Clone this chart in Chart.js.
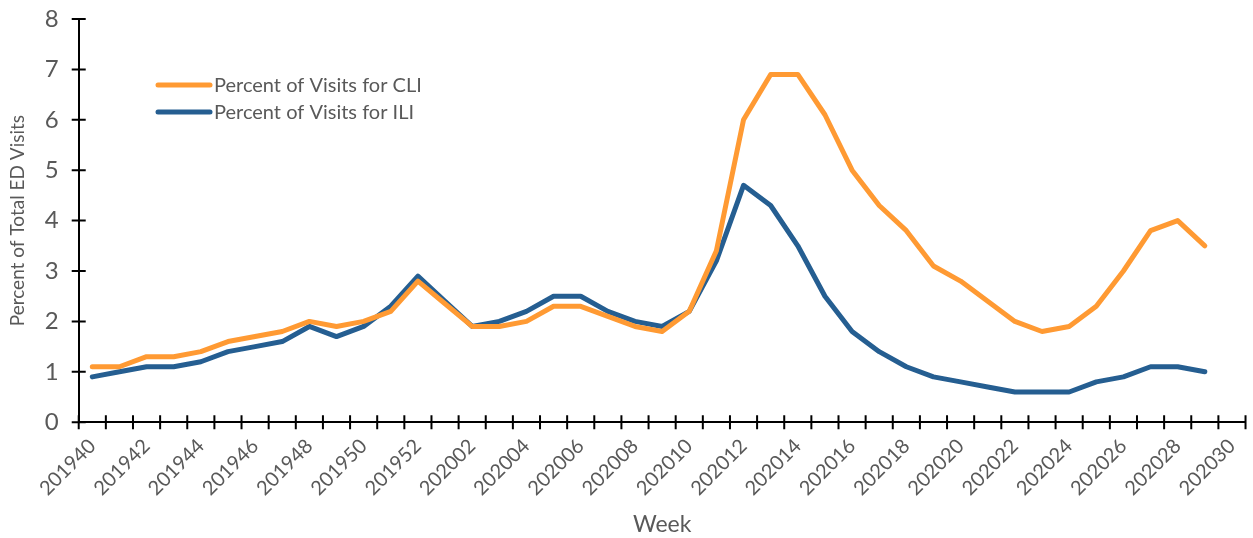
<!DOCTYPE html>
<html>
<head>
<meta charset="utf-8">
<script src="https://cdn.jsdelivr.net/npm/chart.js@4"></script>
<style>
  html, body { margin: 0; padding: 0; background: #fff; }
  #wrap { width: 1253px; height: 538px; position: relative; }
</style>
</head>
<body>
<div id="wrap"><canvas id="grafico"></canvas></div>
<script>
// Semanas (eixo x)
const weeks = [
  "201940", "201941", "201942", "201943", "201944", "201945", "201946", "201947", "201948", "201949",
  "201950", "201951", "201952", "202001", "202002", "202003", "202004", "202005", "202006", "202007",
  "202008", "202009", "202010", "202011", "202012", "202013", "202014", "202015", "202016", "202017",
  "202018", "202019", "202020", "202021", "202022", "202023", "202024", "202025", "202026", "202027",
  "202028", "202029", "202030"
];

// Percentual de visitas CLI
const cliValues = [
  1.1, 1.1, 1.3, 1.3, 1.4, 1.6, 1.7, 1.8, 2.0, 1.9,
  2.0, 2.2, 2.8, 2.35, 1.9, 1.9, 2.0, 2.3, 2.3, 2.1,
  1.9, 1.8, 2.2, 3.4, 6.0, 6.9, 6.9, 6.1, 5.0, 4.3,
  3.8, 3.1, 2.8, 2.4, 2.0, 1.8, 1.9, 2.3, 3.0, 3.8,
  4.0, 3.5, null
];

// Percentual de visitas ILI
const iliValues = [
  0.9, 1.0, 1.1, 1.1, 1.2, 1.4, 1.5, 1.6, 1.9, 1.7,
  1.9, 2.3, 2.9, 2.4, 1.9, 2.0, 2.2, 2.5, 2.5, 2.2,
  2.0, 1.9, 2.2, 3.2, 4.7, 4.3, 3.5, 2.5, 1.8, 1.4,
  1.1, 0.9, 0.8, 0.7, 0.6, 0.6, 0.6, 0.8, 0.9, 1.1,
  1.1, 1.0, null
];

const yTicks = [0, 1, 2, 3, 4, 5, 6, 7, 8];

const fonte = "Lato, 'Open Sans', sans-serif";
const cinza = "#595959";

// Marcas de escala que cruzam os eixos (estilo Excel)
const marcas = {
  id: "marcas",
  afterDraw(chart) {
    const ctx = chart.ctx;
    const x = chart.scales.x;
    const y = chart.scales.y;
    const area = chart.chartArea;
    ctx.save();
    ctx.strokeStyle = "#000";
    ctx.lineWidth = 2;
    ctx.beginPath();
    for (const v of yTicks) {
      const py = y.getPixelForValue(v);
      ctx.moveTo(area.left - 7, py);
      ctx.lineTo(area.left + 7, py);
    }
    const meio = (x.getPixelForValue(1) - x.getPixelForValue(0)) / 2;
    for (let i = 0; i <= weeks.length; i++) {
      const px = x.getPixelForValue(i) - meio;
      ctx.moveTo(px, area.bottom - 7);
      ctx.lineTo(px, area.bottom + 7);
    }
    ctx.stroke();
    ctx.restore();
  },
};

// Legenda desenhada dentro da área do gráfico
const legendaInterna = {
  id: "legendaInterna",
  afterDraw(chart) {
    const ctx = chart.ctx;
    ctx.save();
    ctx.font = "20px " + fonte;
    ctx.textBaseline = "middle";
    chart.data.datasets.forEach((ds, i) => {
      const ly = 85 + i * 27;
      ctx.strokeStyle = ds.borderColor;
      ctx.lineWidth = 5;
      ctx.lineCap = "round";
      ctx.beginPath();
      ctx.moveTo(158, ly);
      ctx.lineTo(210, ly);
      ctx.stroke();
      ctx.fillStyle = cinza;
      ctx.fillText(ds.label, 214, ly + 1);
    });
    ctx.restore();
  },
};

let linhas = new Chart(document.getElementById("grafico"), {
  type: "line",
  data: {
    labels: weeks,
    datasets: [
      {
        label: "Percent of Visits for CLI",
        data: cliValues,
        borderColor: "#FF9A33",
        borderWidth: 5,
        pointRadius: 0,
        borderJoinStyle: "round",
        borderCapStyle: "round",
        tension: 0,
      },
      {
        label: "Percent of Visits for ILI",
        data: iliValues,
        borderColor: "#255E91",
        borderWidth: 5,
        pointRadius: 0,
        borderJoinStyle: "round",
        borderCapStyle: "round",
        tension: 0,
      },
    ],
  },
  options: {
    responsive: true,
    maintainAspectRatio: false,
    animation: false,
    layout: { padding: { left: 6, right: 6, top: 0, bottom: 0 } },
    plugins: {
      legend: { display: false },
      tooltip: { enabled: false },
    },
    scales: {
      x: {
        offset: true,
        grid: { display: false },
        border: { display: true, color: "#000", width: 2 },
        ticks: {
          autoSkip: false,
          maxRotation: 45,
          minRotation: 45,
          color: cinza,
          font: { family: fonte, size: 20 },
          padding: 4,
          callback: function (val, idx) {
            return idx % 2 == 0 ? weeks[idx] : "";
          },
        },
        title: {
          display: true,
          text: "Week",
          color: cinza,
          font: { family: fonte, size: 23 },
          padding: { top: 6, bottom: 0 },
        },
      },
      y: {
        min: 0,
        max: 8,
        grid: { display: false },
        border: { display: true, color: "#000", width: 2 },
        afterFit(scale) {
          scale.paddingTop = 19;
        },
        ticks: {
          stepSize: 1,
          color: cinza,
          font: { family: fonte, size: 24, lineHeight: 0.8 },
          padding: 12,
        },
        title: {
          display: true,
          text: "Percent of Total ED Visits",
          color: cinza,
          font: { family: fonte, size: 19 },
          padding: { top: 0, bottom: 4 },
        },
      },
    },
  },
  plugins: [marcas, legendaInterna],
});
</script>
</body>
</html>
